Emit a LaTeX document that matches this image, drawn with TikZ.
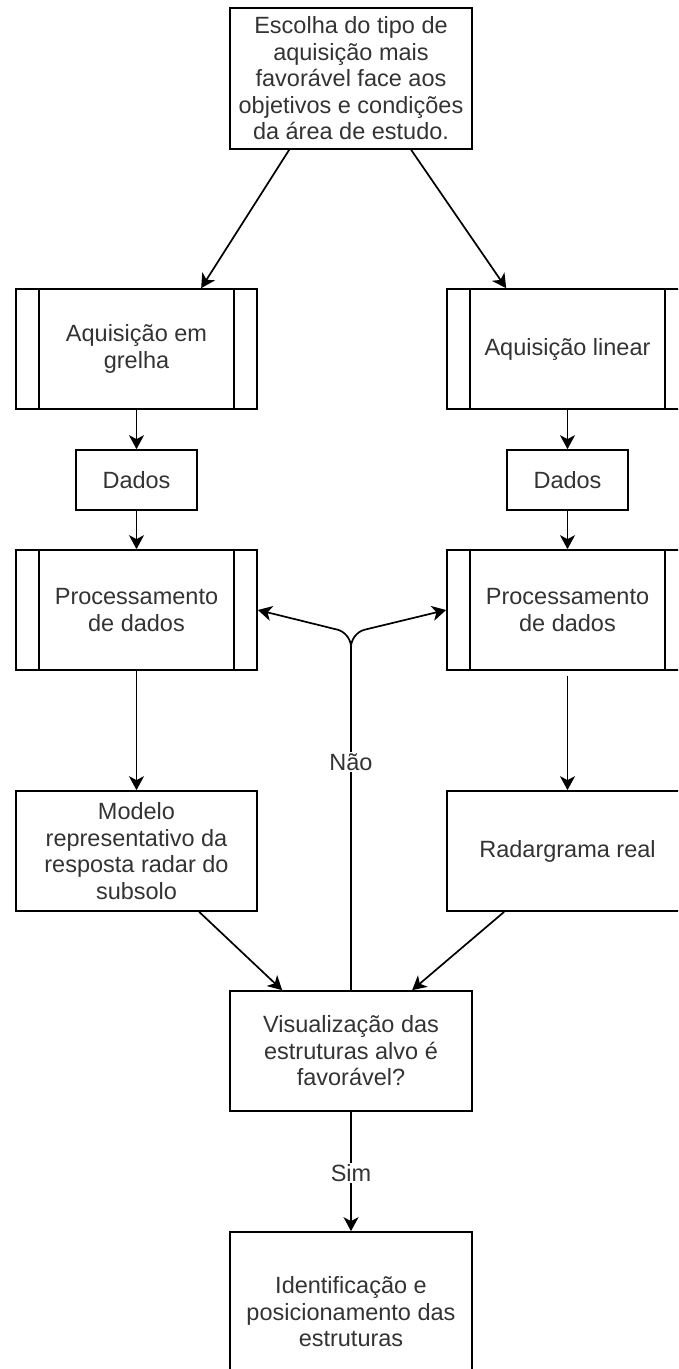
\documentclass[tikz,border=0pt]{standalone}
\usepackage{fontspec}
\setmainfont{Liberation Sans}
\usetikzlibrary{arrows.meta}
\definecolor{txt}{HTML}{333333}
\begin{document}
\begin{tikzpicture}[x=1pt,y=-1pt,
  box/.style={draw, line width=1.7pt, minimum width=241pt, minimum height=120pt,
    align=center, font=\fontsize{23.5}{26.5}\selectfont, text=txt, inner sep=0pt},
  small/.style={box, minimum width=121pt, minimum height=60pt},
  arr/.style={-{Stealth[length=14pt,width=15pt,inset=4pt]}, line width=1.7pt},
  lbl/.style={fill=white, font=\fontsize{23.5}{26.5}\selectfont, text=txt, inner sep=1pt}]
\useasboundingbox (0,0) rectangle (678,1369);
\clip (0,0) rectangle (678,1369);

\node[box, minimum width=242pt, minimum height=141pt] (top) at (351,78.5)
  {Escolha do tipo de\\aquisição mais\\favorável face aos\\objetivos e condições\\da área de estudo.};

\node[box] (grelha) at (136.5,349) {Aquisição em\\grelha};
\node[box] (lin) at (567.5,349) {Aquisição linear};
\foreach \n in {grelha,lin}{
  \draw[line width=1.7pt] ([xshift=24pt]\n.north west) -- ([xshift=24pt]\n.south west);
  \draw[line width=1.7pt] ([xshift=-24pt]\n.north east) -- ([xshift=-24pt]\n.south east);
}

\node[small] (d1) at (136.5,480) {Dados};
\node[small] (d2) at (567.5,480) {Dados};

\node[box] (p1) at (136.5,610) {Processamento\\de dados};
\node[box] (p2) at (567.5,610) {Processamento\\de dados};
\foreach \n in {p1,p2}{
  \draw[line width=1.7pt] ([xshift=24pt]\n.north west) -- ([xshift=24pt]\n.south west);
  \draw[line width=1.7pt] ([xshift=-24pt]\n.north east) -- ([xshift=-24pt]\n.south east);
}

\node[box] (mod) at (136.5,851) {Modelo\\representativo da\\resposta radar do\\subsolo};
\node[box] (rad) at (567.5,851) {Radargrama real};

\node[box, minimum width=242pt] (vis) at (351,1051) {Visualização das\\estruturas alvo é\\favorável?};

\node[box, minimum width=242pt, minimum height=160pt] (ident) at (351,1312)
  {Identificação e\\posicionamento das\\estruturas};

% connectors
\draw[arr] ([xshift=60pt]top.south west) -- ([xshift=186pt]grelha.north west);
\draw[arr] ([xshift=182pt]top.south west) -- ([xshift=60pt]lin.north west);

\draw[arr] (grelha) -- (d1);
\draw[arr] (d1) -- (p1);
\draw[arr] (lin) -- (d2);
\draw[arr] (d2) -- (p2);

\draw[arr] (p1) -- (mod);
\draw[arr, shorten <=5pt] (p2) -- (rad);

\draw[arr] ([xshift=184pt]mod.south west) -- ([xshift=53pt]vis.north west);
\draw[arr] ([xshift=58pt]rad.south west) -- ([xshift=183pt]vis.north west);

\coordinate (fork) at (351,633);
\draw[arr, rounded corners=14pt] (vis.north) -- (fork) -- (p1.east);
\draw[arr, rounded corners=14pt] (vis.north) -- (fork) -- (p2.west);
\node[lbl] (nao) at (351,762) {Não};

\draw[arr] (vis) -- (ident);
\node[lbl] (sim) at (351,1173) {Sim};
\end{tikzpicture}
\end{document}
